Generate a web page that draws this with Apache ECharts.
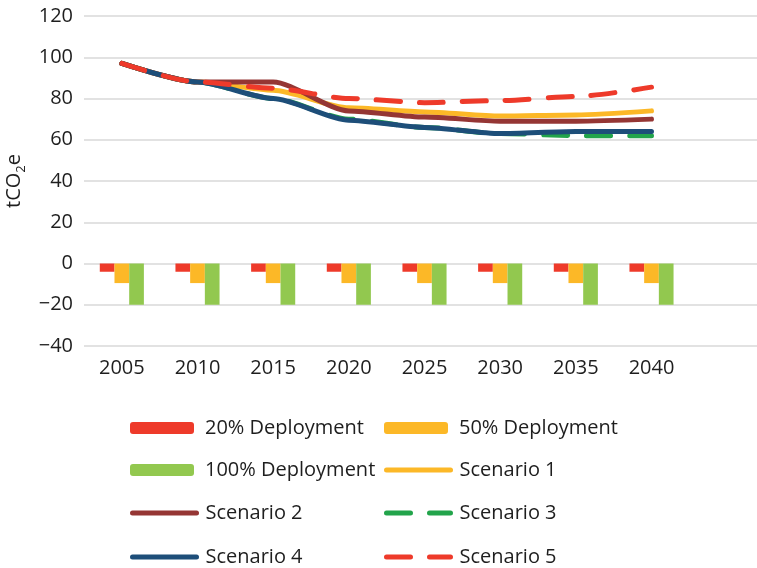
<!DOCTYPE html>
<html>
<head>
<meta charset="utf-8">
<script src="https://cdn.jsdelivr.net/npm/echarts@6.0.0/dist/echarts.min.js"></script>
<style>
  html, body { margin: 0; padding: 0; background: #fff; }
  #chart { width: 757px; height: 568px; }
</style>
</head>
<body>
<div id="chart"></div>
<script>
const years = ["2005", "2010", "2015", "2020", "2025", "2030", "2035", "2040"];
const yTicks = { min: -40, max: 120, step: 20 };

const deploy20 = [-4, -4, -4, -4, -4, -4, -4, -4];
const deploy50 = [-9.5, -9.5, -9.5, -9.5, -9.5, -9.5, -9.5, -9.5];
const deploy100 = [-20, -20, -20, -20, -20, -20, -20, -20];

const scenario1 = [97, 88, 84, 75.5, 73.5, 71.5, 72, 74];
const scenario2 = [97, 88, 88, 74, 71, 69, 69, 70];
const scenario3 = [97, 88, 80, 70, 66, 63, 62, 62];
const scenario4 = [97, 88, 80, 69.5, 66, 63, 64, 64];
const scenario5 = [97, 88, 85, 80, 78, 79, 81, 85.5];

const colors = {
  red: "#ee3a2a",
  yellow: "#fcb827",
  green: "#92c84f",
  brown: "#953634",
  darkGreen: "#22a44b",
  blue: "#1d4e79",
  text: "#1e1e1e",
  grid: "#d9d9d9",
};

const font = "'Open Sans', 'Noto Sans', sans-serif";

const chart = echarts.init(document.getElementById("chart"));

const barSeries = (name, data, color) => ({
  name,
  type: "bar",
  data,
  barWidth: 14.7,
  barGap: "0%",
  itemStyle: { color },
});

const lineSeries = (name, data, color, dashed) => ({
  name,
  type: "line",
  data,
  symbol: "none",
  smooth: 0.25,
  smoothMonotone: "x",
  lineStyle: {
    color,
    width: 5,
    type: dashed ? [24, 19] : "solid",
    cap: "round",
    join: "round",
  },
  itemStyle: { color },
});

// one legend per entry so both columns line up like the original
const legendItem = (name, left, rowCenter, isLine) => ({
  data: [name],
  left,
  top: rowCenter - 10,
  padding: 0,
  itemWidth: 64,
  itemHeight: 12,
  textStyle: {
    fontFamily: font,
    fontSize: 20,
    color: colors.text,
    lineHeight: 20,
    padding: [0, 0, 0, isLine ? 4 : 6],
  },
  lineStyle: { width: "inherit", type: "inherit", cap: "round" },
  itemStyle: isLine ? { color: "rgba(0,0,0,0)", borderWidth: 0 } : {},
});

const col1 = 130;
const col2 = 384;
const rows = [428, 470, 513, 557];

const options = {
  backgroundColor: "#fff",
  animation: false,
  grid: { left: 84, right: -8, top: 16, bottom: 222, outerBoundsMode: "none" },
  legend: [
    legendItem("20% Deployment", col1, rows[0], false),
    legendItem("50% Deployment", col2, rows[0], false),
    legendItem("100% Deployment", col1, rows[1], false),
    legendItem("Scenario 1", col2, rows[1], true),
    legendItem("Scenario 2", col1, rows[2], true),
    legendItem("Scenario 3", col2, rows[2], true),
    legendItem("Scenario 4", col1, rows[3], true),
    legendItem("Scenario 5", col2, rows[3], true),
  ],
  xAxis: {
    type: "category",
    data: years,
    max: years.length,
    axisLine: { show: false },
    axisTick: { show: false },
    axisLabel: {
      margin: 12,
      fontFamily: font,
      fontSize: 20,
      color: colors.text,
    },
  },
  yAxis: {
    type: "value",
    min: yTicks.min,
    max: yTicks.max,
    interval: yTicks.step,
    name: "{a|tCO}{sub|2}{a|e}",
    nameLocation: "middle",
    nameGap: 56,
    nameTextStyle: {
      rich: {
        a: { fontFamily: font, fontSize: 20, color: colors.text, lineHeight: 26 },
        sub: { fontFamily: font, fontSize: 13, color: colors.text, lineHeight: 16, verticalAlign: "bottom" },
      },
    },
    axisLine: { show: false },
    axisTick: { show: false },
    splitLine: { lineStyle: { color: colors.grid, width: 1.5 } },
    axisLabel: {
      margin: 11,
      fontFamily: font,
      fontSize: 20,
      color: colors.text,
      formatter: (v) => String(v).replace("-", "\u2212"),
    },
  },
  series: [
    barSeries("20% Deployment", deploy20, colors.red),
    barSeries("50% Deployment", deploy50, colors.yellow),
    barSeries("100% Deployment", deploy100, colors.green),
    lineSeries("Scenario 1", scenario1, colors.yellow, false),
    lineSeries("Scenario 2", scenario2, colors.brown, false),
    lineSeries("Scenario 3", scenario3, colors.darkGreen, true),
    lineSeries("Scenario 4", scenario4, colors.blue, false),
    lineSeries("Scenario 5", scenario5, colors.red, true),
  ],
};

chart.setOption(options);
</script>
</body>
</html>
